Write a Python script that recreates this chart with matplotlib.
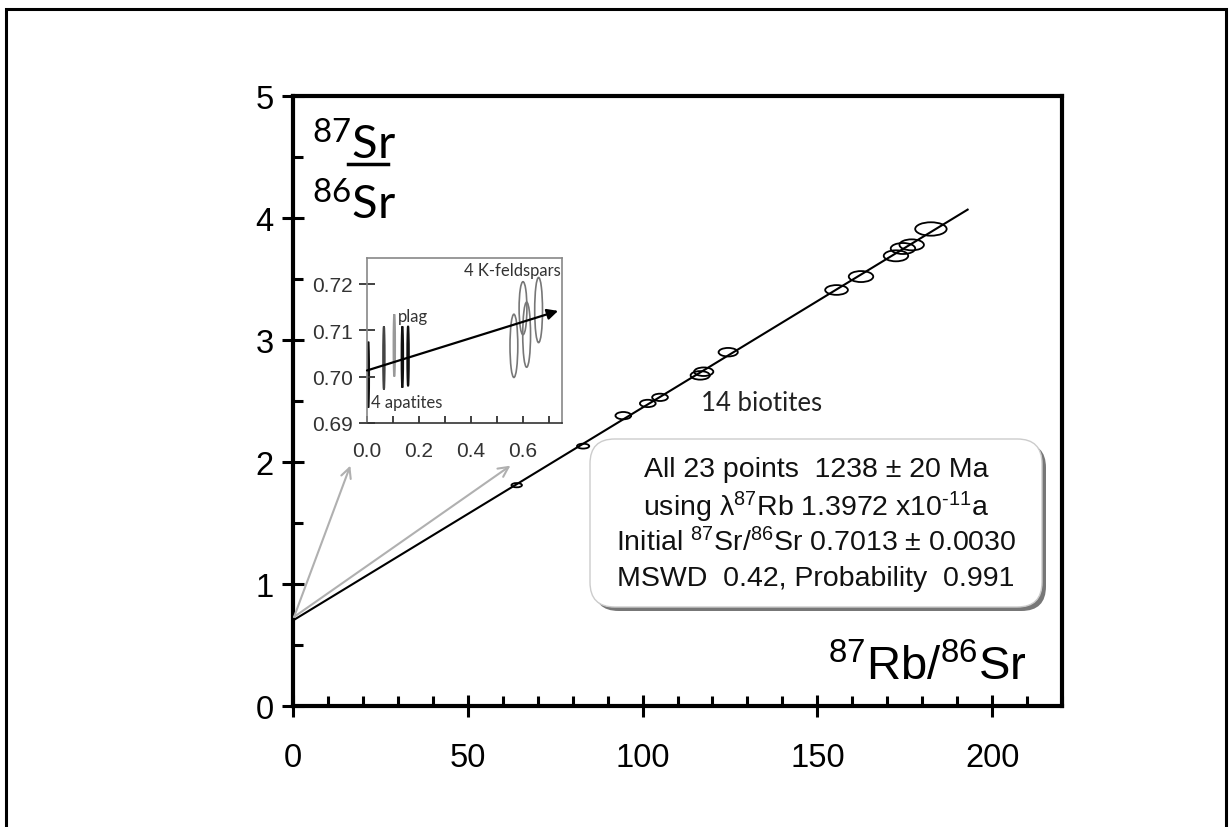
import matplotlib
matplotlib.use('Agg')
import matplotlib.pyplot as plt
import numpy as np
from matplotlib.patches import Ellipse, FancyBboxPatch, Rectangle
from matplotlib.ticker import MultipleLocator

plt.rcParams['font.family'] = ['Liberation Sans', 'DejaVu Sans']
plt.rcParams['mathtext.default'] = 'regular'

# isochron fit
age_ma = 1238.0
decay = 1.3972e-11
intercept = 0.7013
slope = np.exp(decay * age_ma * 1e6) - 1.0
line_x = [0.0, 193.0]

# biotites: x, y, ellipse width (x units), height (y units)
bio_x = [64, 83, 94.5, 101.5, 105, 116.5, 117.5, 124.5, 155.5, 162.5, 172.5, 174.5, 177, 182.5]
bio_y = [1.81, 2.13, 2.38, 2.48, 2.53, 2.71, 2.74, 2.90, 3.41, 3.52, 3.69, 3.75, 3.78, 3.91]
bio_w = [3.0, 3.5, 4.5, 4.5, 4.5, 5.5, 5.5, 5.5, 6.5, 7.0, 7.0, 7.0, 7.0, 9.0]
bio_h = [0.035, 0.04, 0.06, 0.06, 0.06, 0.07, 0.07, 0.07, 0.08, 0.09, 0.09, 0.09, 0.09, 0.11]

# inset: apatites + plag (narrow), K-feldspars
low_x = [0.005, 0.065, 0.105, 0.136, 0.158]
low_y = [0.7004, 0.7040, 0.7067, 0.7042, 0.7044]
low_h = [0.0142, 0.0136, 0.0134, 0.0132, 0.0130]
low_c = ['#111111', '#444444', '#999999', '#111111', '#111111']
kf_x = [0.565, 0.600, 0.614, 0.660]
kf_y = [0.7066, 0.7147, 0.7090, 0.7143]
kf_h = [0.0136, 0.0114, 0.0140, 0.0140]

fig = plt.figure(figsize=(12.32, 8.28), dpi=100)

# outer frame
fig.patches.append(Rectangle((6 / 1232, -0.05), 1220 / 1232, 1.05 - 10 / 828,
                             transform=fig.transFigure, fill=False, lw=2.2,
                             edgecolor='black', clip_on=False))

ax = fig.add_axes([293 / 1232, 1 - 707 / 828, 769 / 1232, 610 / 828])
ax.set_xlim(0, 220)
ax.set_ylim(0, 5)
for s in ax.spines.values():
    s.set_linewidth(3)
ax.xaxis.set_major_locator(MultipleLocator(50))
ax.xaxis.set_minor_locator(MultipleLocator(10))
ax.yaxis.set_major_locator(MultipleLocator(1))
ax.yaxis.set_minor_locator(MultipleLocator(0.5))
ax.tick_params(which='major', direction='inout', length=16, width=2.2, labelsize=23.5)
ax.tick_params(which='minor', direction='in', length=7, width=2.2)
ax.tick_params(axis='x', which='major', pad=18)
ax.tick_params(axis='y', which='major', pad=6)

ax.plot(line_x, [intercept + slope * v for v in line_x], color='black', lw=1.5, zorder=2)
for x, y, w, h in zip(bio_x, bio_y, bio_w, bio_h):
    ax.add_patch(Ellipse((x, y), w, h, fill=False, edgecolor='black', lw=1.3, zorder=3))

ax.text(116.8, 2.43, '14 biotites', family='Lato', fontsize=18.5, color='#222222')

# axis titles drawn inside
ax.text(0.025, 0.898, '$^{87}$Sr', transform=ax.transAxes, family='Lato', fontsize=34,
        va='baseline')
ax.plot([0.071, 0.124], [0.889, 0.889], transform=ax.transAxes, color='black', lw=2.5)
ax.text(0.025, 0.80, '$^{86}$Sr', transform=ax.transAxes, family='Lato', fontsize=34,
        va='baseline')
ax.text(210, 0.22, '$^{87}$Rb/$^{86}$Sr', fontsize=34, ha='right', va='baseline')

# grey pointer arrows to inset
for tx in [16.4, 62.2]:
    ax.annotate('', xy=(tx, 1.97), xytext=(0.3, 0.73),
                arrowprops=dict(arrowstyle='->', color='#b0b0b0', lw=1.5,
                                mutation_scale=18, shrinkA=0, shrinkB=0))

# result box with shadow
bx, by, bw, bh = 590 / 1232, 1 - 608 / 828, 452 / 1232, 168 / 828
asp = 1232 / 828
fig.patches.append(FancyBboxPatch((bx + 4 / 1232, by - 4 / 828), bw, bh,
                                  boxstyle='round,pad=0,rounding_size=0.02',
                                  mutation_aspect=asp, transform=fig.transFigure,
                                  facecolor='#555555', edgecolor='none', alpha=0.8))
fig.patches.append(FancyBboxPatch((bx, by), bw, bh,
                                  boxstyle='round,pad=0,rounding_size=0.02',
                                  mutation_aspect=asp, transform=fig.transFigure,
                                  facecolor='white', edgecolor='#cccccc', lw=1))
box_lines = ['All 23 points  1238 ± 20 Ma',
             'using λ$^{87}$Rb 1.3972 x10$^{‐11}$a',
             'Initial $^{87}$Sr/$^{86}$Sr 0.7013 ± 0.0030',
             'MSWD  0.42, Probability  0.991']
line_yp = [470, 507, 543, 579]
for txt, yp in zip(box_lines, line_yp):
    fig.text(816 / 1232, 1 - yp / 828, txt, fontsize=20.5, ha='center', va='center',
             color='#111111')

# inset
ins = fig.add_axes([367 / 1232, 1 - 424 / 828, 195 / 1232, 165 / 828])
ins.set_xlim(0, 0.75)
ins.set_ylim(0.69, 0.7255)
for s in ins.spines.values():
    s.set_color('#888888')
    s.set_linewidth(1.2)
ins.spines['bottom'].set_color('#333333')
ins.xaxis.set_major_locator(MultipleLocator(0.2))
ins.xaxis.set_minor_locator(MultipleLocator(0.1))
ins.yaxis.set_major_locator(MultipleLocator(0.01))
ins.xaxis.set_major_formatter(matplotlib.ticker.FormatStrFormatter('%.1f'))
ins.yaxis.set_major_formatter(matplotlib.ticker.FormatStrFormatter('%.2f'))
ins.tick_params(axis='x', which='both', direction='in', length=5, width=1.3,
                labelsize=15, pad=13, colors='#333333')
ins.tick_params(axis='y', which='major', direction='inout', length=12, width=1.3,
                labelsize=15, pad=4, colors='#333333')

ins.annotate('', xy=(0.735, intercept + slope * 0.735), xytext=(0, intercept),
             arrowprops=dict(arrowstyle='-|>', color='black', lw=1.6,
                             mutation_scale=16, shrinkA=0, shrinkB=0))
for x, y, h, c in zip(low_x, low_y, low_h, low_c):
    ins.add_patch(Ellipse((x, y), 0.006, h, fill=False, edgecolor=c, lw=1.4))
for x, y, h in zip(kf_x, kf_y, kf_h):
    ins.add_patch(Ellipse((x, y), 0.03, h, fill=False, edgecolor='#777777', lw=1.2))

ins.text(0.745, 0.7218, '4 K-feldspars', family='Lato', fontsize=12, ha='right',
         color='#333333')
ins.text(0.12, 0.712, 'plag', family='Lato', fontsize=12, color='#333333')
ins.text(0.015, 0.6935, '4 apatites', family='Lato', fontsize=12, color='#333333')

fig.savefig('out.png', dpi=100)
